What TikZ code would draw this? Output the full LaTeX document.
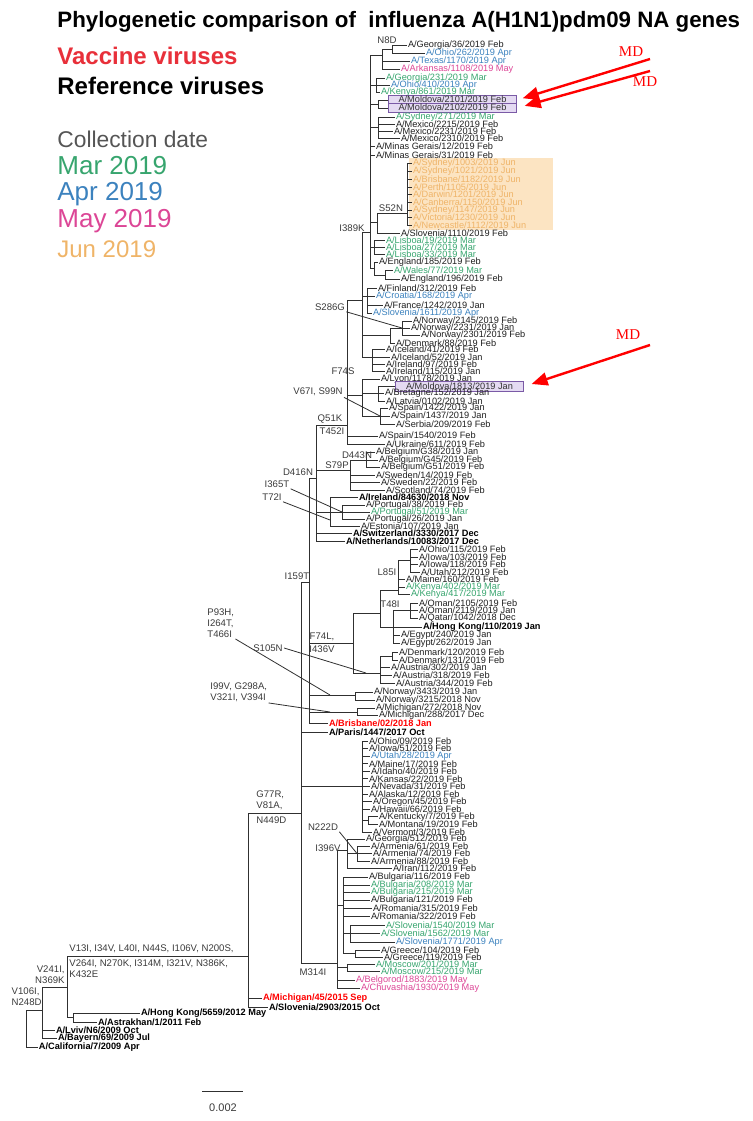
\documentclass[tikz,border=0pt]{standalone}
\usepackage{fontspec}
\setmainfont{Liberation Sans}
\newfontfamily\mdfont{Liberation Serif}
\usetikzlibrary{arrows.meta}
\definecolor{vacred}{HTML}{E8303A}
\definecolor{marcol}{HTML}{37A56E}
\definecolor{aprcol}{HTML}{3C82BE}
\definecolor{maycol}{HTML}{DC4696}
\definecolor{juncol}{HTML}{EFB468}
\definecolor{junfill}{HTML}{FCE4C2}
\definecolor{boxline}{HTML}{7A5AA6}
\definecolor{boxfill}{HTML}{E4DAF2}
\definecolor{mutgray}{HTML}{3A3A3A}
\definecolor{treeline}{HTML}{303030}
\definecolor{dategray}{HTML}{555555}
\newcommand{\tipat}[6][]{\node[tiplbl,#1] (#2) at (#5,#4) {#6}; \draw[branch] (#3,#4) -- (#2.west);}
\newcommand{\clade}[5]{\draw[branch] (#1,#2) -- (#1,#3) (#4,#5) -- (#1,#5);}

\begin{document}
\begin{tikzpicture}[x=0.5pt,y=-0.5pt,
  branch/.style={treeline,line width=0.45pt},
  tiplbl/.style={anchor=west,inner sep=0.3pt,text=black!88,font=\fontsize{4.6}{5}\selectfont},
  ref/.style={text=black,font=\fontsize{4.6}{5}\selectfont\bfseries},
  vac/.style={text=red,font=\fontsize{4.6}{5}\selectfont\bfseries},
  inmar/.style={text=marcol}, inapr/.style={text=aprcol},
  inmay/.style={text=maycol}, injun/.style={text=juncol},
  boxed/.style={draw=boxline,fill=boxfill,text=black!80,minimum width=64pt,inner sep=0.4pt,
    text height=3.3pt,text depth=0.7pt,line width=0.5pt},
  mut/.style={mutgray,inner sep=0.5pt,font=\fontsize{4.8}{5.6}\selectfont},
  leader/.style={treeline,line width=0.4pt},
  legend/.style={anchor=west,inner sep=0pt,font=\fontsize{13}{15}\selectfont},
  mdlabel/.style={red,inner sep=0pt,font=\mdfont\fontsize{7.5}{9}\selectfont},
  mdarrow/.style={red,line width=1.2pt,-{Triangle[length=8pt,width=6.5pt]}}]
\useasboundingbox (0,0) rectangle (753,1121);

\node[legend,font=\fontsize{11.15}{13}\selectfont\bfseries] (title) at (57,22) {Phylogenetic comparison of\ \ influenza A(H1N1)pdm09 NA genes};
\node[legend,vacred,font=\fontsize{12}{14}\selectfont\bfseries] (vacc) at (57,56) {Vaccine viruses};
\node[legend,font=\fontsize{12}{14}\selectfont\bfseries] (refv) at (57,86) {Reference viruses};
\node[legend,dategray,font=\fontsize{11.4}{14}\selectfont] (colld) at (57,139) {Collection date};
\node[legend,marcol] (lmar) at (57,166) {Mar 2019};
\node[legend,aprcol] (lapr) at (57,194) {Apr 2019};
\node[legend,maycol] (lmay) at (57,221) {May 2019};
\node[legend,juncol,font=\fontsize{12}{14}\selectfont] (ljun) at (57,249) {Jun 2019};

\clade{370}{55}{268}{362}{232}
\clade{382}{49}{69}{370}{55}
\clade{392}{45}{53}{382}{49}
\tipat{t1}{392}{45}{407}{A/Georgia/36/2019 Feb}
\tipat[inapr]{t2}{392}{53}{425}{A/Ohio/262/2019 Apr}
\tipat[inapr]{t3}{382}{61}{410}{A/Texas/1170/2019 Apr}
\tipat[inmay]{t4}{382}{69}{400}{A/Arkansas/1108/2019 May}
\clade{376}{78}{92}{370}{85}
\tipat[inmar]{t5}{376}{78}{385}{A/Georgia/231/2019 Mar}
\tipat[inapr]{t6}{376}{85}{390}{A/Ohio/410/2019 Apr}
\tipat[inmar]{t7}{376}{92}{380}{A/Kenya/861/2019 Mar}
\clade{378}{100}{108}{370}{104}
\tipat[boxed]{t8}{378}{100}{388}{A/Moldova/2101/2019 Feb}
\tipat[boxed]{t9}{378}{108}{388}{A/Moldova/2102/2019 Feb}
\clade{378}{117}{138}{370}{127}
\tipat[inmar]{t10}{378}{117}{395}{A/Sydney/271/2019 Mar}
\tipat{t11}{378}{124}{395}{A/Mexico/2215/2019 Feb}
\tipat{t12}{378}{131}{393}{A/Mexico/2231/2019 Feb}
\tipat{t13}{378}{138}{400}{A/Mexico/2310/2019 Feb}
\tipat{t14}{370}{146}{375}{A/Minas Gerais/12/2019 Feb}
\tipat{t15}{370}{155}{375}{A/Minas Gerais/31/2019 Feb}
\fill[junfill] (409,158) rectangle (553,230);
\clade{407}{163}{225}{377}{213}
\clade{377}{213}{233}{370}{222}
\tipat[injun]{t16}{407}{163}{412}{A/Sydney/1003/2019 Jun}
\tipat[injun]{t17}{407}{171}{412}{A/Sydney/1021/2019 Jun}
\tipat[injun]{t18}{407}{179}{412}{A/Brisbane/1182/2019 Jun}
\tipat[injun]{t19}{407}{187}{412}{A/Perth/1105/2019 Jun}
\tipat[injun]{t20}{407}{194}{412}{A/Darwin/1201/2019 Jun}
\tipat[injun]{t21}{407}{202}{412}{A/Canberra/1150/2019 Jun}
\tipat[injun]{t22}{407}{210}{412}{A/Sydney/1147/2019 Jun}
\tipat[injun]{t23}{407}{217.5}{412}{A/Victoria/1230/2019 Jun}
\tipat[injun]{t24}{407}{225}{412}{A/Newcastle/1112/2019 Jun}
\tipat{t25}{377}{233}{400}{A/Slovenia/1110/2019 Feb}
\clade{374}{240.5}{254}{370}{247}
\tipat[inmar]{t26}{374}{240.5}{385}{A/Lisboa/19/2019 Mar}
\tipat[inmar]{t27}{374}{247}{385}{A/Lisboa/27/2019 Mar}
\tipat[inmar]{t28}{374}{254}{385}{A/Lisboa/33/2019 Mar}
\clade{374}{262}{275}{370}{268}
\clade{385}{270}{279}{374}{275}
\tipat{t29}{374}{262}{378}{A/England/185/2019 Feb}
\tipat[inmar]{t30}{385}{270}{393}{A/Wales/77/2019 Mar}
\tipat{t31}{385}{279}{400}{A/England/196/2019 Feb}

\clade{362}{232}{357}{347}{300}
\clade{367}{288}{313}{362}{296}
\tipat{t32}{367}{288}{377}{A/Finland/312/2019 Feb}
\tipat[inapr]{t33}{367}{296}{375}{A/Croatia/168/2019 Apr}
\tipat{t34}{367}{305}{383}{A/France/1242/2019 Jan}
\tipat[inapr]{t35}{367}{313}{372}{A/Slovenia/1611/2019 Apr}
\clade{390}{328}{343}{362}{335}
\clade{402}{321}{335}{390}{328}
\tipat{t36}{402}{321}{412}{A/Norway/2145/2019 Feb}
\tipat{t37}{402}{328}{410}{A/Norway/2231/2019 Jan}
\tipat{t38}{402}{335}{420}{A/Norway/2301/2019 Feb}
\tipat{t39}{390}{343}{395}{A/Denmark/88/2019 Feb}
\clade{372}{349.5}{371.5}{362}{357}
\tipat{t40}{372}{349.5}{385}{A/Iceland/41/2019 Feb}
\tipat{t41}{372}{357}{390}{A/Iceland/52/2019 Jan}
\tipat{t42}{372}{364.5}{385}{A/Ireland/97/2019 Feb}
\tipat{t43}{372}{371.5}{385}{A/Ireland/115/2019 Jan}

\clade{362}{379}{416}{347}{395}
\tipat{t44}{362}{379}{380}{A/Lyon/1178/2019 Jan}
\clade{378}{386.5}{401}{362}{393}
\tipat[boxed]{t45}{378}{386.5}{395}{A/Moldova/1813/2019 Jan}
\tipat{t46}{378}{393.5}{384}{A/Bretagne/152/2019 Jan}
\tipat{t47}{378}{401}{385}{A/Latvia/0102/2019 Jan}
\clade{380}{408.5}{425}{362}{416}
\tipat{t48}{380}{408.5}{388}{A/Spain/1422/2019 Jan}
\tipat{t49}{380}{416.5}{390}{A/Spain/1437/2019 Jan}
\tipat{t50}{380}{424.5}{395}{A/Serbia/209/2019 Feb}
\clade{347}{300}{444}{316}{425}
\tipat{t51}{347}{436}{378}{A/Spain/1540/2019 Feb}
\tipat{t52}{347}{444}{385}{A/Ukraine/611/2019 Feb}
\clade{350}{460}{490}{316}{470}
\clade{366}{452.5}{467}{350}{460}
\tipat{t53}{366}{452.5}{375}{A/Belgium/G38/2019 Jan}
\tipat{t54}{366}{460}{378}{A/Belgium/G45/2019 Feb}
\tipat{t55}{366}{467}{380}{A/Belgium/G51/2019 Feb}
\tipat{t56}{350}{475}{375}{A/Sweden/14/2019 Feb}
\tipat{t57}{350}{482.5}{380}{A/Sweden/22/2019 Feb}
\tipat{t58}{350}{490}{385}{A/Scotland/74/2019 Feb}
\clade{330}{497.5}{526}{316}{512}
\tipat[ref]{t59}{330}{497.5}{358}{A/Ireland/84630/2018 Nov}
\clade{342}{505}{519}{330}{512}
\tipat{t60}{342}{505}{365}{A/Portugal/38/2019 Feb}
\tipat[inmar]{t61}{342}{512}{370}{A/Portugal/51/2019 Mar}
\tipat{t62}{342}{519}{365}{A/Portugal/26/2019 Jan}
\tipat{t63}{330}{526}{360}{A/Estonia/107/2019 Jan}
\tipat[ref]{t64}{316}{533.5}{352}{A/Switzerland/3330/2017 Dec}
\tipat[ref]{t65}{316}{541}{345}{A/Netherlands/10083/2017 Dec}
\clade{316}{425}{541}{309}{478}

\clade{309}{478}{723.5}{301}{582}
\clade{353}{613}{673}{309}{643}
\clade{380}{590}{627}{353}{613}
\clade{398}{560}{594.5}{380}{590}
\clade{410}{549}{572}{398}{560}
\tipat{t66}{410}{549}{418}{A/Ohio/115/2019 Feb}
\tipat{t67}{410}{557}{418}{A/Iowa/103/2019 Feb}
\tipat{t68}{410}{564.5}{418}{A/Iowa/118/2019 Feb}
\tipat{t69}{410}{572}{420}{A/Utah/212/2019 Feb}
\tipat{t70}{398}{579.5}{405}{A/Maine/160/2019 Feb}
\tipat[inmar]{t71}{398}{587}{405}{A/Kenya/402/2019 Mar}
\tipat[inmar]{t72}{398}{594.5}{410}{A/Kenya/417/2019 Mar}
\clade{393}{610.5}{643}{380}{627}
\clade{410}{603}{618}{393}{610.5}
\tipat{t73}{410}{603}{418}{A/Oman/2105/2019 Feb}
\tipat{t74}{410}{610.5}{418}{A/Oman/2119/2019 Jan}
\tipat{t75}{410}{618}{418}{A/Qatar/1042/2018 Dec}
\tipat[ref]{t76}{393}{627}{422}{A/Hong Kong/110/2019 Jan}
\tipat{t77}{393}{635.5}{400}{A/Egypt/240/2019 Jan}
\tipat{t78}{393}{643}{400}{A/Egypt/262/2019 Jan}
\clade{380}{656}{683}{353}{673}
\clade{392}{652}{660}{380}{656}
\tipat{t79}{392}{652}{398}{A/Denmark/120/2019 Feb}
\tipat{t80}{392}{660}{398}{A/Denmark/131/2019 Feb}
\tipat{t81}{380}{667.5}{390}{A/Austria/302/2019 Jan}
\tipat{t82}{380}{675}{392}{A/Austria/318/2019 Feb}
\tipat{t83}{380}{683}{395}{A/Austria/344/2019 Feb}
\clade{355}{692}{700}{309}{695}
\tipat{t84}{355}{692}{373}{A/Norway/3433/2019 Jan}
\tipat{t85}{355}{700}{375}{A/Norway/3215/2018 Nov}
\clade{357}{708}{715.5}{309}{712}
\tipat{t86}{357}{708}{375}{A/Michigan/272/2018 Nov}
\tipat{t87}{357}{715.5}{378}{A/Michigan/288/2017 Dec}
\tipat[vac]{t88}{309}{723.5}{328}{A/Brisbane/02/2018 Jan}

\clade{301}{582}{963}{248}{813}
\tipat[ref]{t89}{301}{732}{328}{A/Paris/1447/2017 Oct}
\clade{362}{741}{832}{301}{786}
\tipat{t90}{362}{741}{368}{A/Ohio/09/2019 Feb}
\tipat{t91}{362}{748.6}{368}{A/Iowa/51/2019 Feb}
\tipat[inapr]{t92}{362}{756.2}{370}{A/Utah/28/2019 Apr}
\tipat{t93}{362}{763.8}{368}{A/Maine/17/2019 Feb}
\tipat{t94}{362}{771.3}{370}{A/Idaho/40/2019 Feb}
\tipat{t95}{362}{778.9}{368}{A/Kansas/22/2019 Feb}
\tipat{t96}{362}{786.5}{370}{A/Nevada/31/2019 Feb}
\tipat{t97}{362}{794}{368}{A/Alaska/12/2019 Feb}
\tipat{t98}{362}{801.7}{372}{A/Oregon/45/2019 Feb}
\tipat{t99}{362}{809.3}{370}{A/Hawaii/66/2019 Feb}
\clade{368}{816.8}{824.4}{362}{820.5}
\tipat{t100}{368}{816.8}{378}{A/Kentucky/7/2019 Feb}
\tipat{t101}{368}{824.4}{378}{A/Montana/19/2019 Feb}
\tipat{t102}{362}{832}{372}{A/Vermont/3/2019 Feb}
\clade{337}{850}{988}{301}{963}
\clade{347}{839.5}{868}{337}{850}
\clade{357}{846.5}{861}{347}{853.5}
\tipat{t103}{347}{839.5}{365}{A/Georgia/512/2019 Feb}
\tipat{t104}{357}{846.5}{370}{A/Armenia/61/2019 Feb}
\tipat{t105}{357}{853.5}{372}{A/Armenia/74/2019 Feb}
\tipat{t106}{357}{861}{370}{A/Armenia/88/2019 Feb}
\tipat{t107}{347}{868.5}{392}{A/Iran/112/2019 Feb}
\clade{343}{877}{953}{337}{905}
\tipat{t108}{343}{877}{368}{A/Bulgaria/116/2019 Feb}
\tipat[inmar]{t109}{343}{885}{370}{A/Bulgaria/208/2019 Mar}
\tipat[inmar]{t110}{343}{892.5}{370}{A/Bulgaria/215/2019 Mar}
\tipat{t111}{343}{900}{370}{A/Bulgaria/121/2019 Feb}
\tipat{t112}{343}{908}{372}{A/Romania/315/2019 Feb}
\tipat{t113}{343}{916}{370}{A/Romania/322/2019 Feb}
\clade{350}{925}{942}{343}{933}
\tipat[inmar]{t114}{350}{925}{385}{A/Slovenia/1540/2019 Mar}
\tipat[inmar]{t115}{350}{933}{380}{A/Slovenia/1562/2019 Mar}
\tipat[inapr]{t116}{350}{942}{395}{A/Slovenia/1771/2019 Apr}
\clade{355}{950}{957}{343}{953}
\tipat{t117}{355}{950}{380}{A/Greece/104/2019 Feb}
\tipat{t118}{355}{957.5}{383}{A/Greece/119/2019 Feb}
\clade{347}{964}{971.5}{337}{967}
\tipat[inmar]{t119}{347}{964}{375}{A/Moscow/201/2019 Mar}
\tipat[inmar]{t120}{347}{971.5}{380}{A/Moscow/215/2019 Mar}
\tipat[inmay]{t121}{337}{980}{355}{A/Belgorod/1883/2019 May}
\tipat[inmay]{t122}{337}{988}{360}{A/Chuvashia/1930/2019 May}

\clade{248}{813}{1007}{67}{956}
\tipat[vac]{t123}{248}{998}{262}{A/Michigan/45/2015 Sep}
\tipat[ref]{t124}{248}{1007}{268}{A/Slovenia/2903/2015 Oct}
\clade{67}{956}{1017}{42}{987}
\clade{73}{1013}{1022}{67}{1017}
\tipat[ref]{t125}{73}{1013}{140}{A/Hong Kong/5659/2012 May}
\tipat[ref]{t126}{73}{1022}{97}{A/Astrakhan/1/2011 Feb}
\clade{42}{987}{1038}{26}{1010}
\tipat[ref]{t127}{42}{1030}{55}{A/Lviv/N6/2009 Oct}
\tipat[ref]{t128}{42}{1038}{57}{A/Bayern/69/2009 Jul}
\draw[branch] (26,1010) -- (26,1047);
\tipat[ref]{t130}{26}{1047}{38}{A/California/7/2009 Apr}

\node[mut] (mN8D) at (387,40) {N8D};
\node[mut] (mS52N) at (391,208) {S52N};
\node[mut] (mI389K) at (352,228) {I389K};
\node[mut] (mS286G) at (330,307) {S286G};
\coordinate (bS286G) at (402,328);
\draw[leader] (mS286G.south east) -- (bS286G);
\node[mut] (mF74S) at (343,371) {F74S};
\node[mut] (mV67I) at (318,392) {V67I, S99N};
\coordinate (bV67I) at (380,416);
\draw[leader] (mV67I.south east) -- (bV67I);
\node[mut] (mQ51K) at (330,419) {Q51K};
\node[mut] (mT452I) at (332,431) {T452I};
\node[mut] (mD443N) at (357,455) {D443N};
\node[mut] (mS79P) at (337,465) {S79P};
\node[mut] (mD416N) at (298,472) {D416N};
\node[mut] (mI365T) at (277,484) {I365T};
\coordinate (bI365T) at (342,512);
\draw[leader] (mI365T.south east) -- (bI365T);
\node[mut] (mT72I) at (272,497) {T72I};
\coordinate (bT72I) at (330,520);
\draw[leader] (mT72I.south east) -- (bT72I);
\node[mut] (mL85I) at (387,572) {L85I};
\node[mut] (mT48I) at (390,604) {T48I};
\node[mut] (mI159T) at (297,576) {I159T};
\node[mut] (mF74L) at (322,637) {F74L,};
\node[mut] (mI436V) at (322,649) {I436V};
\node[mut,align=left,anchor=north west] (mP93H) at (206,607) {P93H,\\I264T,\\T466I};
\coordinate (bP93H) at (330,695);
\draw[leader] (mP93H.south east) -- (bP93H);
\node[mut] (mS105N) at (268,648) {S105N};
\coordinate (bS105N) at (366,673);
\draw[leader] (mS105N.east) -- (bS105N);
\node[mut,align=left,anchor=north west] (mI99V) at (209,681) {I99V, G298A,\\V321I, V394I};
\coordinate (bI99V) at (330,712);
\draw[leader] (mI99V.south east) -- (bI99V);
\node[mut,align=left,anchor=south west] (mG77R) at (255,811) {G77R,\\V81A,};
\node[mut,anchor=north west] (mN449D) at (255,815) {N449D};
\node[mut] (mN222D) at (323,827) {N222D};
\coordinate (bN222D) at (357,853.5);
\draw[leader] (mN222D.south east) -- (bN222D);
\node[mut] (mI396V) at (328,848) {I396V};
\node[mut] (mM314I) at (313,972) {M314I};
\node[mut,anchor=south west] (mV13I) at (68,954) {V13I, I34V, L40I, N44S, I106V, N200S,};
\node[mut,anchor=north west,align=left] (mV264I) at (68,958) {V264I, N270K, I314M, I321V, N386K,\\K432E};
\node[mut,anchor=south east,align=right] (mV241I) at (66,985) {V241I,\\N369K};
\node[mut,anchor=south east,align=left] (mV106I) at (43,1007) {V106I,\\N248D};

\node[mdlabel] (md1) at (631,52) {MD};
\node[mdlabel] (md2) at (645,82) {MD};
\node[mdlabel] (md3) at (628,335) {MD};
\coordinate (a1) at (650,59);
\coordinate (a2) at (650,71);
\coordinate (a3) at (650,345);
\draw[mdarrow,shorten >=3pt] (a1) -- (t8.east);
\draw[mdarrow,shorten >=4pt] (a2) -- (t9.east);
\draw[mdarrow,shorten >=4pt] (a3) -- (t45.east);

\coordinate (sc1) at (202,1091);
\coordinate (sc2) at (243,1091);
\draw[branch] (sc1) -- (sc2);
\node[mut,font=\fontsize{5.5}{6}\selectfont] (scl) at (223,1108) {0.002};
\end{tikzpicture}
\end{document}
